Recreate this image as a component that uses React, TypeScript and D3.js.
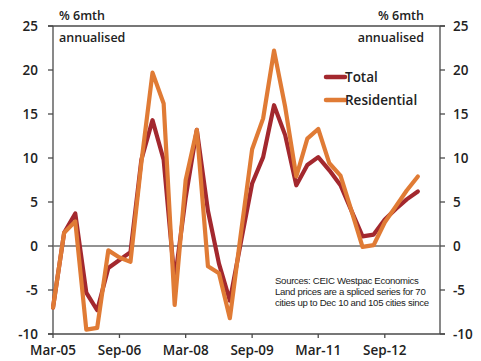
import React from "react";
import * as d3 from "d3";

// Quarterly observations, Mar-05 to Jun-13 (% 6mth annualised)
const quarters: string[] = [
  "2005-03", "2005-06", "2005-09", "2005-12",
  "2006-03", "2006-06", "2006-09", "2006-12",
  "2007-03", "2007-06", "2007-09", "2007-12",
  "2008-03", "2008-06", "2008-09", "2008-12",
  "2009-03", "2009-06", "2009-09", "2009-12",
  "2010-03", "2010-06", "2010-09", "2010-12",
  "2011-03", "2011-06", "2011-09", "2011-12",
  "2012-03", "2012-06", "2012-09", "2012-12",
  "2013-03", "2013-06",
];

const total: number[] = [
  -7.0, 1.5, 3.7, -5.3,
  -7.3, -2.5, -1.6, -0.7,
  9.8, 14.3, 9.8, -4.0,
  5.5, 13.2, 4.0, -2.0,
  -6.2, 0.5, 7.1, 10.1,
  16.0, 12.6, 6.9, 9.2,
  10.1, 8.6, 6.9, 4.0,
  1.1, 1.3, 3.0, 4.2,
  5.3, 6.2,
];

const residential: number[] = [
  -7.0, 1.5, 2.8, -9.5,
  -9.3, -0.5, -1.3, -1.8,
  9.5, 19.7, 16.2, -6.7,
  7.5, 13.2, -2.3, -3.1,
  -8.2, 1.5, 11.0, 14.5,
  22.2, 15.8, 7.9, 12.2,
  13.3, 9.4, 8.0, 4.0,
  -0.1, 0.1, 2.7, 4.5,
  6.3, 7.9,
];

const xTickMonths: string[] = ["2005-03", "2006-09", "2008-03", "2009-09", "2011-03", "2012-09"];
const yTicks: number[] = [-10, -5, 0, 5, 10, 15, 20, 25];

const seriesNames: string[] = ["Total", "Residential"];
const seriesColors: string[] = ["#A3282E", "#E07B35"];

const noteLines: string[] = [
  "Sources: CEIC  Westpac Economics",
  "Land prices are a spliced series for 70",
  "cities up to Dec 10 and 105 cities since",
];

const parseMonth = d3.timeParse("%Y-%m");
const fmtMonth = d3.timeFormat("%b-%y");

const W = 481;
const H = 361;
const left = 53;
const right = 440;
const top = 26;
const bottom = 334;

const font = "'Open Sans', 'Liberation Sans', sans-serif";
const textColor = "#222";
const axisColor = "#4a4a4a";

export default function App() {
  const x = d3
    .scaleTime()
    .domain([parseMonth("2005-03") as Date, parseMonth("2013-12") as Date])
    .range([left, right]);
  const y = d3.scaleLinear().domain([-10, 25]).range([bottom, top]);

  const dates = quarters.map((q) => parseMonth(q) as Date);
  const line = d3
    .line<number>()
    .x((_, i) => x(dates[i]))
    .y((v) => y(v));

  const series = [total, residential];

  return (
    <svg
      width={W}
      height={H}
      style={{ position: "absolute", left: 0, top: 0, background: "#fff" }}
      fontFamily={font}
      fontWeight={600}
    >
      {/* frame: top, left, right and bottom axis lines */}
      <line x1={left - 5} x2={right + 5} y1={top} y2={top} stroke={axisColor} strokeWidth={1.3} />
      <line x1={left} x2={left} y1={top} y2={bottom} stroke={axisColor} strokeWidth={1.3} />
      <line x1={right} x2={right} y1={top} y2={bottom} stroke={axisColor} strokeWidth={1.3} />
      <line x1={left - 5} x2={right + 5} y1={bottom} y2={bottom} stroke={axisColor} strokeWidth={1.3} />

      {/* zero line */}
      <line x1={left} x2={right} y1={y(0)} y2={y(0)} stroke="#6e6e6e" strokeWidth={1.6} />

      {/* y ticks and labels on both sides */}
      {yTicks.map((t) => (
        <g key={t}>
          <line x1={left - 5} x2={left} y1={y(t)} y2={y(t)} stroke={axisColor} strokeWidth={1.3} />
          <line x1={right} x2={right + 5} y1={y(t)} y2={y(t)} stroke={axisColor} strokeWidth={1.3} />
          <text x={38} y={y(t)} dy="0.35em" textAnchor="end" fontSize={13.5} fill={textColor}>
            {t}
          </text>
          <text x={453} y={y(t)} dy="0.35em" textAnchor="start" fontSize={13.5} fill={textColor}>
            {t}
          </text>
        </g>
      ))}

      {/* x ticks and labels */}
      {xTickMonths.map((m) => {
        const d = parseMonth(m) as Date;
        const px = x(d);
        return (
          <g key={m}>
            <line x1={px} x2={px} y1={bottom} y2={bottom + 4} stroke={axisColor} strokeWidth={1.3} />
            <text x={px} y={355} textAnchor="middle" fontSize={13.5} fill={textColor}>
              {fmtMonth(d)}
            </text>
          </g>
        );
      })}

      {/* unit captions */}
      <text x={59} y={20} fontSize={12.5} fill={textColor}>% 6mth</text>
      <text x={59} y={42} fontSize={12.5} fill={textColor}>annualised</text>
      <text x={424} y={20} fontSize={12.5} fill={textColor} textAnchor="end">% 6mth</text>
      <text x={424} y={42} fontSize={12.5} fill={textColor} textAnchor="end">annualised</text>

      {/* data lines */}
      {series.map((s, i) => (
        <path
          key={seriesNames[i]}
          d={line(s) || ""}
          fill="none"
          stroke={seriesColors[i]}
          strokeWidth={4.2}
          strokeLinejoin="round"
          strokeLinecap="round"
        />
      ))}

      {/* legend */}
      {seriesNames.map((n, i) => (
        <g key={n} transform={`translate(0, ${77 + i * 23})`}>
          <line x1={326} x2={345} y1={0} y2={0} stroke={seriesColors[i]} strokeWidth={4.5} strokeLinecap="round" />
          <text x={345} y={0} dy="0.35em" fontSize={13.5} fill={textColor}>
            {n}
          </text>
        </g>
      ))}

      {/* source note */}
      {noteLines.map((l, i) => (
        <text
          key={i}
          x={275}
          y={284 + i * 11}
          fontSize={9.6}
          fontWeight={400}
          fill={textColor}
          letterSpacing={-0.3}
          fontFamily="'Liberation Sans Narrow', 'Liberation Sans', sans-serif"
        >
          {l}
        </text>
      ))}
    </svg>
  );
}
